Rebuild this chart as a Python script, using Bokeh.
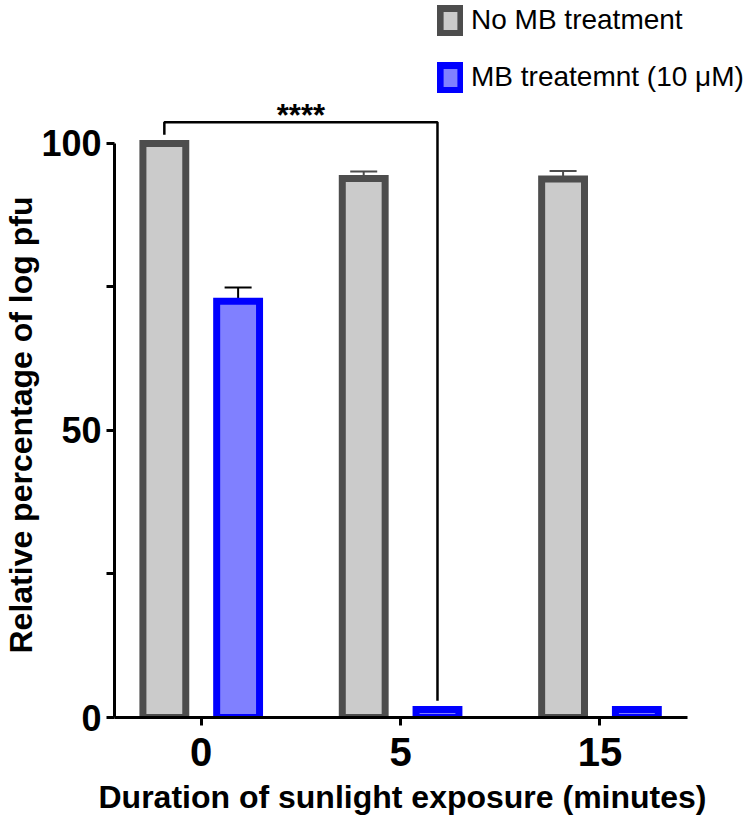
import numpy as np
from bokeh.plotting import figure
from bokeh.models import (ColumnDataSource, FixedTicker, Whisker, TeeHead,
                          Legend, LegendItem, Range1d, Title)
from bokeh.core.properties import value
from bokeh.embed import file_html
from bokeh.resources import INLINE

# ---- data ----
times = ["0", "5", "15"]
no_mb = [100.0, 93.9, 93.8]
no_mb_err = [0.0, 1.2, 1.4]
mb = [72.5, 1.4, 1.4]
mb_err = [2.4, 0.0, 0.0]
series_names = ["No MB treatment", "MB treatemnt (10 \u03bcM)"]
sig_label = "****"
sig_pair = (0, 1)          # grey bar of time index 0  vs  blue bar of time index 1
x_title = "Duration of sunlight exposure (minutes)"
y_title = "Relative percentage of log pfu"

FONT_NAME = "Liberation Sans"
FONT = value(FONT_NAME)
GREY_FILL, GREY_LINE = "#cbcbcb", "#4d4d4d"
BLUE_FILL, BLUE_LINE = "#8080ff", "#0000ff"

idx = np.arange(len(times))
off = 0.185
bar_w = 0.215
grey_x = idx - off
blue_x = idx + off

p = figure(width=750, height=822, output_backend="svg", toolbar_location=None,
           x_range=Range1d(-0.435, 2.755), y_range=Range1d(0, 124.9),
           min_border_left=112, min_border_right=0, min_border_top=0,
           min_border_bottom=105)
p.outline_line_color = None
p.xgrid.visible = False
p.ygrid.visible = False
p.background_fill_color = "white"

src_g = ColumnDataSource(dict(x=grey_x, top=no_mb))
src_b = ColumnDataSource(dict(x=blue_x, top=mb))
r1 = p.vbar(x="x", top="top", bottom=0, width=bar_w, source=src_g,
            fill_color=GREY_FILL, line_color=GREY_LINE, line_width=7,
            line_join="miter")
r2 = p.vbar(x="x", top="top", bottom=0, width=bar_w, source=src_b,
            fill_color=BLUE_FILL, line_color=BLUE_LINE, line_width=7,
            line_join="miter")

# error bars
def whisker_src(xs, means, errs):
    keep = [i for i, e in enumerate(errs) if e > 0]
    return ColumnDataSource(dict(
        base=[xs[i] for i in keep],
        upper=[means[i] + errs[i] for i in keep],
        lower=[means[i] - errs[i] for i in keep]))

for xs, means, errs, col in [(grey_x, no_mb, no_mb_err, GREY_LINE),
                             (blue_x, mb, mb_err, "black")]:
    w = Whisker(source=whisker_src(list(xs), means, errs), base="base",
                upper="upper", lower="lower", dimension="height",
                line_color=col, line_width=2,
                upper_head=TeeHead(size=27, line_color=col, line_width=2),
                lower_head=TeeHead(size=27, line_color=col, line_width=2))
    p.add_layout(w)

# significance bracket
gap = 1.5
sig_top = 103.7
i0, i1 = sig_pair
bx = [grey_x[i0], grey_x[i0], blue_x[i1], blue_x[i1]]
by = [no_mb[i0] + gap, sig_top, sig_top, mb[i1] + gap]
p.line(x=bx, y=by, line_color="black", line_width=2.5)
p.text(x=[(bx[0] + bx[2]) / 2], y=[sig_top], text=[sig_label],
       text_align="center", text_baseline="alphabetic", y_offset=-7,
       text_font=FONT, text_font_style="bold", text_font_size="31px",
       text_color="black")

# axes
yax = p.yaxis[0]
yax.ticker = FixedTicker(ticks=[0, 50, 100], minor_ticks=[25, 75])
yax.bounds = (0, 100)
xax = p.xaxis[0]
xax.ticker = FixedTicker(ticks=list(idx))
xax.major_label_overrides = {int(i): t for i, t in zip(idx, times)}
xax.bounds = (-0.435, 2.44)

for ax in (xax, yax):
    ax.axis_line_width = 3
    ax.axis_line_color = "black"
    ax.major_tick_line_width = 3
    ax.minor_tick_line_width = 3
    ax.major_tick_in = 0
    ax.major_tick_out = 8
    ax.minor_tick_in = 0
    ax.minor_tick_out = 8
    ax.major_label_text_font = FONT_NAME
    ax.major_label_text_font_style = "bold"
    ax.major_label_text_color = "black"

yax.major_label_text_font_size = "36px"
yax.major_label_standoff = 5
xax.major_label_text_font_size = "40px"
xax.major_label_standoff = 12

def axis_title(text, align, offset, size, standoff):
    return Title(text=text, align=align, offset=offset, standoff=standoff,
                 text_font=FONT_NAME, text_font_style="bold",
                 text_font_size=size, text_color="black")

p.add_layout(axis_title(x_title, "right", 44, "32px", 16), "below")
p.add_layout(axis_title(y_title, "left", 64, "32px", 0), "left")

legend = Legend(items=[LegendItem(label=series_names[0], renderers=[r1]),
                       LegendItem(label=series_names[1], renderers=[r2])],
                location=(323, 624), orientation="vertical",
                border_line_color=None, background_fill_alpha=0,
                padding=0, margin=0, spacing=25,
                glyph_width=26, glyph_height=31, label_standoff=8,
                label_height=30, label_text_font=FONT_NAME,
                label_text_font_size="28px", label_text_color="black")
p.add_layout(legend)

open("out.html", "w").write(file_html(p, INLINE))
